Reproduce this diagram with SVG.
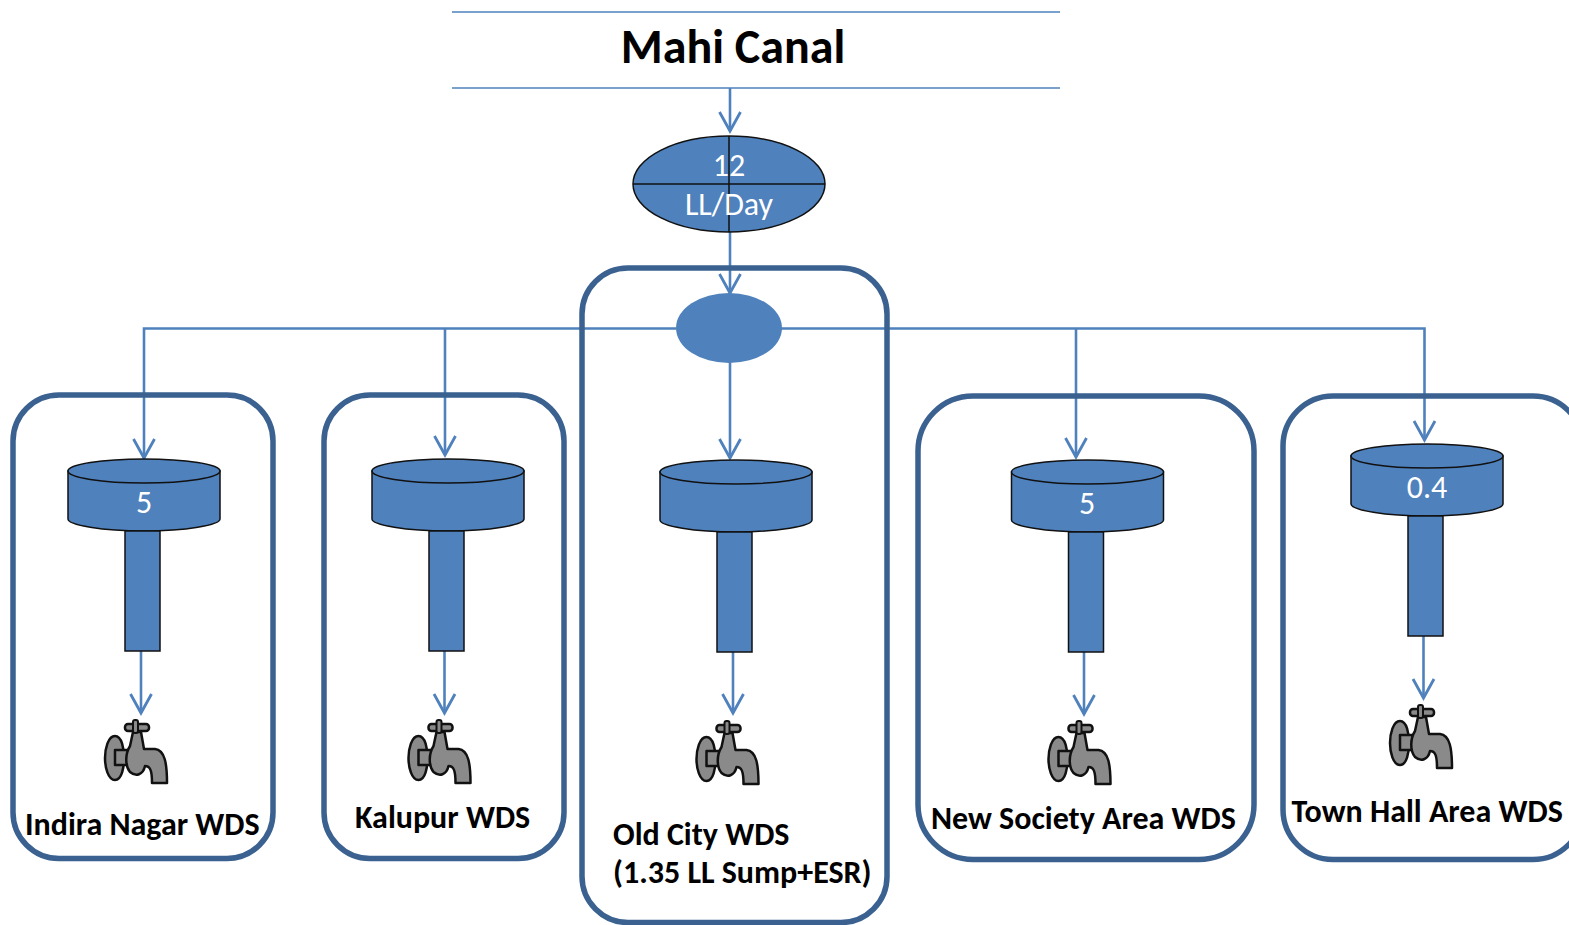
<svg xmlns="http://www.w3.org/2000/svg" xmlns:xlink="http://www.w3.org/1999/xlink" width="1569" height="925" viewBox="0 0 1569 925">
<style>
text{font-family:Carlito,"Open Sans","Noto Sans","Liberation Sans",sans-serif}
.box{fill:none;stroke:#3a6190;stroke-width:5.500}
.c{fill:none;stroke:#4f81bd;stroke-width:2.600}
.t{fill:#4f81bd;stroke:#111;stroke-width:1.500}
.w{fill:#fff;font-size:32px;text-anchor:middle}
.l{fill:#000;font-size:32px;font-weight:700}
</style>
<defs>
<marker id="a" markerUnits="userSpaceOnUse" markerWidth="26" markerHeight="32" refX="22" refY="16" orient="auto"><path d="M3 5.500L22 16L3 26.500" fill="none" stroke="#4f81bd" stroke-width="2.800"/></marker>
<g id="tank">
<path class="t" d="M0 12V60C0 66 34 72 76 72S152 66 152 60V12Z"/>
<ellipse class="t" cx="76" cy="12" rx="76" ry="12"/>
<rect class="t" x="57" y="72" width="35" height="120"/>
</g>
<g id="tap" stroke-linejoin="round">
<path d="M10 16C3 16 0 29 0 38S3 60 10 60S19 47 19 38S17 16 10 16Z" fill="#8a8a8a" stroke="#111" stroke-width="2.500"/>
<path d="M10 30H26V45H10Z" fill="#8a8a8a" stroke="#111" stroke-width="2.500"/>
<path d="M28 12L25 26C20 34 20 46 25 52C31 57 38 55 40 46C45 46 47 50 47 63H62C62 44 60 30 50 29H39L36 12Z" fill="#8a8a8a" stroke="#111" stroke-width="2.500"/>
<rect x="20" y="4" width="24" height="7" rx="3" fill="#8a8a8a" stroke="#111" stroke-width="2.500"/>
<rect x="28" y="0" width="5" height="13" rx="2" fill="#8a8a8a" stroke="#111" stroke-width="2"/>
</g>
</defs>
<g id="connectors">
<path class="c" d="M730 88V131" marker-end="url(#a)"/>
<path class="c" d="M730 232V293" marker-end="url(#a)"/>
<path class="c" d="M730 362V458" marker-end="url(#a)"/>
<path class="c" d="M676 328.500H144V458" marker-end="url(#a)"/>
<path class="c" d="M445 328V455" marker-end="url(#a)"/>
<path class="c" d="M781 328.500H1424.500V440" marker-end="url(#a)"/>
<path class="c" d="M1076 328V457" marker-end="url(#a)"/>
<path class="c" d="M141 650V713" marker-end="url(#a)"/>
<path class="c" d="M444.500 650V713" marker-end="url(#a)"/>
<path class="c" d="M733 651V713" marker-end="url(#a)"/>
<path class="c" d="M1084 651V714" marker-end="url(#a)"/>
<path class="c" d="M1423.500 635V698" marker-end="url(#a)"/>
</g>
<g id="mahi-canal">
<path d="M452 12H1060M452 88H1060" stroke="#4f81bd" stroke-width="1.300" fill="none"/>
<text x="733" y="63" font-size="48" font-weight="700" text-anchor="middle" fill="#000">Mahi Canal</text>
</g>
<g id="supply">
<ellipse class="t" cx="729" cy="184" rx="96" ry="48"/>
<path d="M633 184H825M729 136V232" stroke="#111" stroke-width="1.500"/>
<text class="w" x="729" y="176">12</text>
<text class="w" x="729" y="215">LL/Day</text>
</g>
<g id="indira-nagar">
<rect class="box" x="13" y="395" width="260" height="463.500" rx="46"/>
<use xlink:href="#tank" x="68" y="459"/>
<text class="w" x="144" y="513">5</text>
<use xlink:href="#tap" x="105" y="720"/>
<text class="l" x="25" y="835">Indira Nagar WDS</text>
</g>
<g id="kalupur">
<rect class="box" x="324" y="395" width="240" height="463.500" rx="46"/>
<use xlink:href="#tank" x="372" y="459"/>
<use xlink:href="#tap" x="408.500" y="720"/>
<text class="l" x="355" y="828">Kalupur WDS</text>
</g>
<g id="old-city">
<rect class="box" x="582" y="268" width="305" height="654.500" rx="46"/>
<ellipse cx="729" cy="328" rx="53" ry="35" fill="#4f81bd"/>
<use xlink:href="#tank" x="660" y="460"/>
<use xlink:href="#tap" x="696.500" y="721"/>
<text class="l" x="613" y="845">Old City WDS</text>
<text class="l" x="613" y="883">(1.35 LL Sump+ESR)</text>
</g>
<g id="new-society">
<rect class="box" x="918" y="396" width="336" height="463.500" rx="55"/>
<use xlink:href="#tank" x="1011.500" y="460"/>
<text class="w" x="1087" y="514">5</text>
<use xlink:href="#tap" x="1048.500" y="721"/>
<text class="l" x="931" y="829">New Society Area WDS</text>
</g>
<g id="town-hall">
<rect class="box" x="1283" y="396" width="300" height="463.500" rx="50"/>
<use xlink:href="#tank" x="1351" y="444"/>
<text class="w" x="1427" y="498">0.4</text>
<use xlink:href="#tap" x="1390" y="705"/>
<text class="l" x="1291.500" y="822">Town Hall Area WDS</text>
</g>
</svg>
